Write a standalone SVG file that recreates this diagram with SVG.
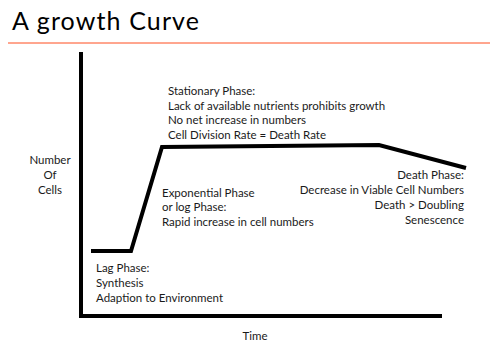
<svg xmlns="http://www.w3.org/2000/svg" width="490" height="361" viewBox="0 0 490 361">
<style>
text{font-family:Lato,"Open Sans","Liberation Sans",sans-serif;fill:#1a1a1a;font-size:11.5px}
.title{font-size:25px;fill:#000}
.ax{stroke:#000;stroke-width:4;fill:none}
.curve{stroke:#000;stroke-width:4;fill:none;stroke-linejoin:miter}
.r{text-anchor:end}
.c{text-anchor:middle}
</style>
<rect width="490" height="361" fill="#fff"/>
<g id="title">
<text class="title" x="12" y="30" textLength="187" lengthAdjust="spacing">A growth Curve</text>
<line x1="8" y1="43" x2="490" y2="43" stroke="#ff4d1f" stroke-width="1"/>
</g>
<g id="axes">
<polyline class="ax" points="81,52 81,316 442,316"/>
</g>
<g id="connectors">
<polyline class="curve" points="91,251 131,251 162,147 379,145 466,168"/>
</g>
<g id="ylabel">
<text class="c" x="50" y="164">Number</text>
<text class="c" x="50" y="179">Of</text>
<text class="c" x="50" y="194">Cells</text>
</g>
<g id="xlabel">
<text class="c" x="255" y="340">Time</text>
</g>
<g id="stationary">
<text x="168" y="95">Stationary Phase:</text>
<text x="168" y="109.5">Lack of available nutrients prohibits growth</text>
<text x="168" y="124">No net increase in numbers</text>
<text x="168" y="138.5">Cell Division Rate = Death Rate</text>
</g>
<g id="exponential">
<text x="162" y="196.5">Exponential Phase</text>
<text x="162" y="211">or log Phase:</text>
<text x="162" y="226">Rapid increase in cell numbers</text>
</g>
<g id="death">
<text class="r" x="464" y="179">Death Phase:</text>
<text class="r" x="464" y="194">Decrease in Viable Cell Numbers</text>
<text class="r" x="464" y="209">Death &gt; Doubling</text>
<text class="r" x="464" y="224">Senescence</text>
</g>
<g id="lag">
<text x="96" y="272">Lag Phase:</text>
<text x="96" y="287">Synthesis</text>
<text x="96" y="301.5">Adaption to Environment</text>
</g>
</svg>
